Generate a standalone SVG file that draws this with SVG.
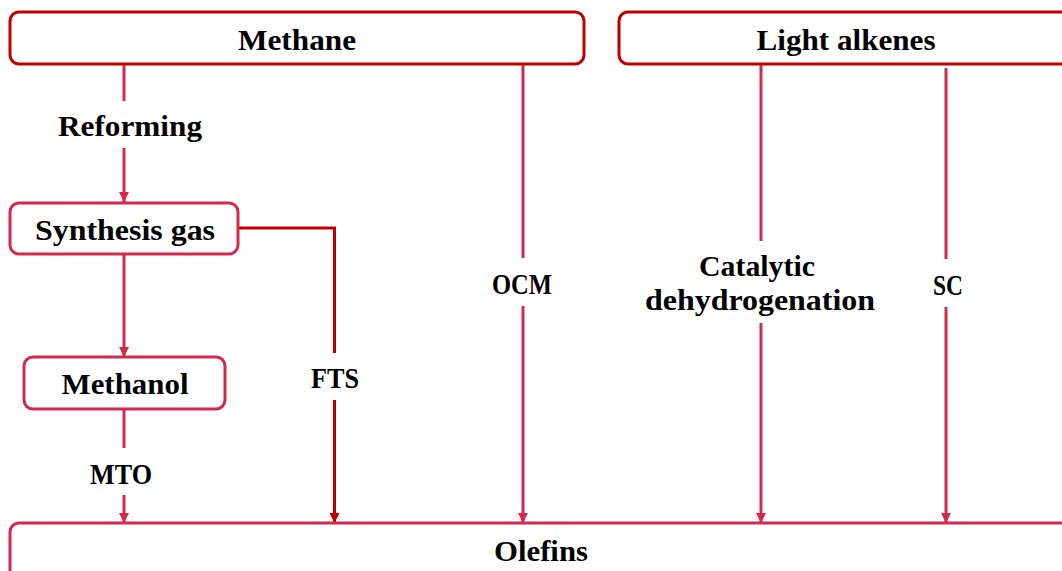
<svg xmlns="http://www.w3.org/2000/svg" width="1062" height="571" viewBox="0 0 1062 571">
  <style>
    .box-dark { fill: #ffffff; stroke: #C00000; stroke-width: 3; }
    .box-red { fill: #ffffff; stroke: #D2294F; stroke-width: 3; }
    .lbl { font-family: "Liberation Serif", "Times New Roman", serif; font-weight: bold; font-size: 30px; fill: #000000; text-anchor: middle; }
    .ln-red { fill: none; stroke: #D2294F; stroke-width: 3; }
    .ln-dark { fill: none; stroke: #C00000; stroke-width: 3; }
  </style>
  <defs>
    <marker id="arrRed" viewBox="0 0 10 10" refX="10" refY="5" markerWidth="10" markerHeight="10" markerUnits="userSpaceOnUse" orient="auto">
      <path d="M0,0 L10,5 L0,10 Z" fill="#D2294F"/>
    </marker>
    <marker id="arrDark" viewBox="0 0 10 10" refX="10" refY="5" markerWidth="10" markerHeight="10" markerUnits="userSpaceOnUse" orient="auto">
      <path d="M0,0 L10,5 L0,10 Z" fill="#C00000"/>
    </marker>
  </defs>

  <rect width="1062" height="571" fill="#ffffff"/>

  <!-- connectors -->
  <g id="connectors">
    <!-- Methane -> Synthesis gas (Reforming) -->
    <line class="ln-red" x1="124" y1="64" x2="124" y2="101"/>
    <line class="ln-red" x1="124" y1="148" x2="124" y2="202" marker-end="url(#arrRed)"/>
    <text class="lbl" x="130" y="136" textLength="144" lengthAdjust="spacingAndGlyphs">Reforming</text>

    <!-- Synthesis gas -> Methanol -->
    <line class="ln-red" x1="124" y1="254" x2="124" y2="357" marker-end="url(#arrRed)"/>

    <!-- Methanol -> Olefins (MTO) -->
    <line class="ln-red" x1="124" y1="409" x2="124" y2="448"/>
    <line class="ln-red" x1="124" y1="495" x2="124" y2="523" marker-end="url(#arrRed)"/>
    <text class="lbl" x="121" y="484" textLength="62" lengthAdjust="spacingAndGlyphs">MTO</text>

    <!-- Synthesis gas -> Olefins (FTS) -->
    <polyline class="ln-dark" points="238,228 334.5,228 334.5,353"/>
    <line class="ln-dark" x1="334.5" y1="400" x2="334.5" y2="523" marker-end="url(#arrDark)"/>
    <text class="lbl" x="335" y="388" textLength="48" lengthAdjust="spacingAndGlyphs">FTS</text>

    <!-- Methane -> Olefins (OCM) -->
    <line class="ln-red" x1="523" y1="64" x2="523" y2="258"/>
    <line class="ln-red" x1="523" y1="306" x2="523" y2="523" marker-end="url(#arrRed)"/>
    <text class="lbl" x="522" y="294" textLength="60" lengthAdjust="spacingAndGlyphs">OCM</text>

    <!-- Light alkenes -> Olefins (Catalytic dehydrogenation) -->
    <line class="ln-red" x1="761" y1="64" x2="761" y2="241"/>
    <line class="ln-red" x1="761" y1="323" x2="761" y2="523" marker-end="url(#arrRed)"/>
    <text class="lbl" x="757" y="276" textLength="116" lengthAdjust="spacingAndGlyphs">Catalytic</text>
    <text class="lbl" x="760" y="310" textLength="230" lengthAdjust="spacingAndGlyphs">dehydrogenation</text>

    <!-- Light alkenes -> Olefins (SC) -->
    <line class="ln-red" x1="946" y1="68" x2="946" y2="259"/>
    <line class="ln-red" x1="946" y1="307" x2="946" y2="523" marker-end="url(#arrRed)"/>
    <text class="lbl" x="948" y="295" textLength="30" lengthAdjust="spacingAndGlyphs">SC</text>
  </g>

  <!-- nodes -->
  <g id="methane">
    <rect class="box-dark" x="10" y="12" width="574" height="52" rx="9"/>
    <text class="lbl" x="297" y="50" textLength="118" lengthAdjust="spacingAndGlyphs">Methane</text>
  </g>

  <g id="light-alkenes">
    <rect class="box-dark" x="619" y="12" width="454" height="52" rx="9"/>
    <text class="lbl" x="846" y="50" textLength="179" lengthAdjust="spacingAndGlyphs">Light alkenes</text>
  </g>

  <g id="synthesis-gas">
    <rect class="box-red" x="10" y="203" width="228" height="51" rx="9"/>
    <text class="lbl" x="125" y="240" textLength="180" lengthAdjust="spacingAndGlyphs">Synthesis gas</text>
  </g>

  <g id="methanol">
    <rect class="box-red" x="24" y="357" width="201" height="52" rx="9"/>
    <text class="lbl" x="125" y="394" textLength="127" lengthAdjust="spacingAndGlyphs">Methanol</text>
  </g>

  <g id="olefins">
    <rect class="box-red" x="10" y="523" width="1063" height="60" rx="9"/>
    <text class="lbl" x="541" y="561" textLength="94" lengthAdjust="spacingAndGlyphs">Olefins</text>
  </g>
</svg>
